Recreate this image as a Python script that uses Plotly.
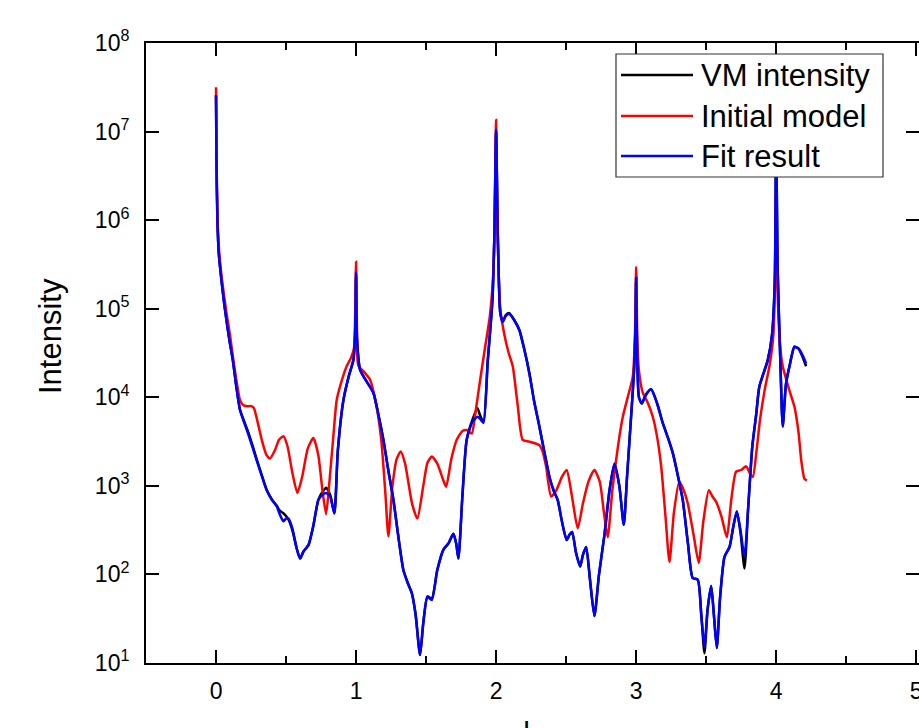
import plotly.graph_objects as go

# ---- data (L in r.l.u., intensity in counts) ----
L_fit = [0.000, 0.003, 0.010, 0.020, 0.036, 0.055, 0.071, 0.095, 0.120, 0.145,
         0.171, 0.200, 0.229, 0.260, 0.290, 0.325, 0.362, 0.400, 0.433, 0.455,
         0.481, 0.500, 0.517, 0.545, 0.575, 0.600, 0.625, 0.660, 0.695, 0.731,
         0.760, 0.786, 0.815, 0.845, 0.870, 0.910, 0.950, 0.981, 0.993, 1.000,
         1.007, 1.029, 1.075, 1.124, 1.160, 1.195, 1.230, 1.267, 1.300, 1.338,
         1.370, 1.398, 1.425, 1.457, 1.480, 1.510, 1.541, 1.580, 1.624, 1.660,
         1.695, 1.715, 1.731, 1.760, 1.790, 1.830, 1.867, 1.885, 1.910, 1.940,
         1.974, 1.988, 2.000, 2.012, 2.030, 2.047, 2.070, 2.095, 2.130, 2.166,
         2.200, 2.238, 2.270, 2.309, 2.345, 2.381, 2.410, 2.440, 2.470, 2.504,
         2.525, 2.543, 2.570, 2.600, 2.620, 2.643, 2.670, 2.702, 2.735, 2.774,
         2.810, 2.845, 2.880, 2.912, 2.935, 2.964, 2.985, 2.995, 3.000, 3.006,
         3.020, 3.040, 3.070, 3.107, 3.150, 3.190, 3.230, 3.262, 3.300, 3.333,
         3.370, 3.404, 3.440, 3.465, 3.488, 3.510, 3.536, 3.555, 3.576, 3.600,
         3.631, 3.667, 3.695, 3.719, 3.745, 3.774, 3.800, 3.830, 3.857, 3.880,
         3.940, 3.970, 3.990, 4.000, 4.010, 4.030, 4.047, 4.070, 4.095, 4.131,
         4.160, 4.190, 4.214]

fit_result = [2.57e7, 5.01e6, 1.00e6, 4.17e5, 2.29e5, 1.26e5, 8.13e4, 4.47e4, 2.63e4, 1.32e4,
              7.24e3, 5.25e3, 3.89e3, 2.75e3, 1.95e3, 1.32e3, 891, 692, 589, 479,
              398, 427, 427, 331, 200, 151, 182, 214, 355, 692,
              794, 832, 759, 490, 2.51e3, 9.33e3, 1.78e4, 2.63e4, 5.01e4, 2.57e5,
              4.47e4, 2.04e4, 1.51e4, 1.12e4, 6.31e3, 3.31e3, 1.51e3, 692, 282, 112,
              79.4, 61.7, 35.5, 12.3, 28.2, 56.2, 51.3, 112, 191, 224,
              288, 224, 151, 794, 3.31e3, 5.25e3, 6.03e3, 5.75e3, 5.13e3, 2.51e4,
              1.26e5, 7.08e5, 1.05e7, 7.08e5, 8.91e4, 7.08e4, 8.32e4, 8.71e4, 7.41e4, 5.75e4,
              3.55e4, 1.86e4, 9.33e3, 4.68e3, 2.40e3, 1.26e3, 891, 692, 398, 245,
              282, 302, 178, 123, 166, 204, 89.1, 33.9, 100, 282,
              891, 1.78e3, 1.00e3, 363, 1.26e3, 6.03e3, 2.00e4, 6.31e4, 2.24e5, 3.98e4,
              1.00e4, 8.51e3, 1.07e4, 1.23e4, 8.51e3, 5.13e3, 3.39e3, 2.34e3, 1.26e3, 692,
              224, 91.2, 87.1, 35.5, 15.1, 39.8, 74.1, 35.5, 14.8, 56.2,
              158, 204, 355, 513, 316, 158, 562, 2.82e3, 6.31e3, 1.32e4,
              2.63e4, 5.01e4, 2.00e5, 1.00e7, 3.16e5, 2.51e4, 4.68e3, 1.41e4, 2.24e4, 3.72e4,
              3.55e4, 2.95e4, 2.40e4]

vm_intensity = [2.57e7, 5.01e6, 1.00e6, 4.17e5, 2.29e5, 1.26e5, 8.13e4, 4.47e4, 2.63e4, 1.32e4,
                7.24e3, 5.40e3, 4.07e3, 2.88e3, 2.00e3, 1.35e3, 900, 700, 600, 525,
                490, 457, 417, 316, 200, 151, 182, 214, 355, 700,
                851, 955, 794, 490, 2.51e3, 9.33e3, 1.78e4, 2.63e4, 5.01e4, 2.45e5,
                4.47e4, 2.04e4, 1.51e4, 1.12e4, 6.31e3, 3.31e3, 1.51e3, 692, 282, 112,
                79.4, 61.7, 35.5, 12.3, 28.2, 56.2, 53.7, 112, 191, 224,
                288, 224, 151, 794, 3.31e3, 5.50e3, 7.50e3, 6.31e3, 5.25e3, 2.51e4,
                1.26e5, 7.08e5, 1.00e7, 7.08e5, 8.91e4, 7.24e4, 8.51e4, 8.91e4, 7.41e4, 5.75e4,
                3.55e4, 1.86e4, 9.33e3, 4.68e3, 2.40e3, 1.26e3, 891, 692, 398, 245,
                282, 302, 178, 123, 166, 204, 89.1, 33.9, 100, 282,
                891, 1.78e3, 1.00e3, 363, 1.26e3, 6.03e3, 2.00e4, 6.31e4, 2.20e5, 3.98e4,
                1.00e4, 8.51e3, 1.07e4, 1.23e4, 8.51e3, 5.13e3, 3.39e3, 2.34e3, 1.26e3, 692,
                224, 91.2, 87.1, 35.5, 12.9, 39.8, 74.1, 35.5, 14.8, 56.2,
                158, 204, 355, 513, 300, 117, 562, 2.82e3, 6.31e3, 1.32e4,
                2.63e4, 5.01e4, 2.00e5, 1.00e7, 3.16e5, 2.51e4, 4.68e3, 1.41e4, 2.24e4, 3.72e4,
                3.55e4, 2.82e4, 2.24e4]

L_init = [0.000, 0.003, 0.010, 0.020, 0.036, 0.055, 0.075, 0.100, 0.124, 0.150,
          0.171, 0.195, 0.220, 0.250, 0.270, 0.300, 0.330, 0.360, 0.386, 0.420,
          0.450, 0.481, 0.510, 0.545, 0.581, 0.615, 0.655, 0.695, 0.730, 0.760,
          0.786, 0.810, 0.840, 0.862, 0.900, 0.933, 0.965, 0.985, 0.993, 1.000,
          1.007, 1.016, 1.060, 1.100, 1.140, 1.180, 1.210, 1.231, 1.260, 1.290,
          1.319, 1.350, 1.400, 1.438, 1.480, 1.510, 1.541, 1.580, 1.615, 1.643,
          1.680, 1.719, 1.760, 1.790, 1.826, 1.850, 1.883, 1.920, 1.955, 1.980,
          1.990, 2.000, 2.010, 2.030, 2.060, 2.090, 2.119, 2.155, 2.190, 2.238,
          2.309, 2.330, 2.357, 2.393, 2.430, 2.470, 2.504, 2.540, 2.583, 2.620,
          2.660, 2.702, 2.740, 2.770, 2.797, 2.830, 2.857, 2.880, 2.905, 2.940,
          2.976, 2.992, 3.000, 3.008, 3.020, 3.048, 3.080, 3.119, 3.150, 3.179,
          3.210, 3.238, 3.270, 3.309, 3.340, 3.369, 3.410, 3.447, 3.480, 3.519,
          3.545, 3.571, 3.610, 3.648, 3.680, 3.714, 3.750, 3.786, 3.810, 3.833,
          3.860, 3.885, 3.920, 3.952, 3.980, 3.992, 4.000, 4.010, 4.030, 4.047,
          4.090, 4.131, 4.160, 4.179, 4.202, 4.220]

initial_model = [3.16e7, 6.31e6, 1.12e6, 5.01e5, 2.63e5, 1.51e5, 8.91e4, 5.01e4, 2.63e4, 1.41e4,
                 9.33e3, 8.13e3, 7.94e3, 7.94e3, 7.59e3, 5.01e3, 3.16e3, 2.24e3, 2.04e3, 2.51e3,
                 3.31e3, 3.63e3, 2.82e3, 1.41e3, 832, 1.26e3, 2.63e3, 3.47e3, 2.24e3, 891,
                 479, 1.12e3, 3.98e3, 9.33e3, 1.58e4, 2.24e4, 2.82e4, 3.55e4, 7.08e4, 3.39e5,
                 5.01e4, 2.29e4, 1.91e4, 1.58e4, 8.91e3, 3.31e3, 794, 269, 1.00e3, 2.00e3,
                 2.45e3, 1.78e3, 631, 427, 1.00e3, 1.82e3, 2.14e3, 1.78e3, 1.26e3, 977,
                 2.00e3, 3.31e3, 4.17e3, 4.27e3, 3.89e3, 6.31e3, 1.45e4, 3.55e4, 8.13e4, 2.51e5,
                 8.91e5, 1.35e7, 7.94e5, 1.00e5, 5.01e4, 3.16e4, 2.24e4, 7.94e3, 3.31e3, 3.16e3,
                 2.88e3, 2.51e3, 1.66e3, 759, 891, 1.26e3, 1.51e3, 794, 331, 631,
                 1.12e3, 1.51e3, 1.12e3, 501, 263, 891, 1.95e3, 3.55e3, 6.03e3, 1.00e4,
                 1.70e4, 5.01e4, 2.95e5, 5.01e4, 2.00e4, 1.12e4, 8.91e3, 6.03e3, 3.55e3, 1.66e3,
                 447, 138, 501, 1.12e3, 891, 631, 282, 135, 398, 891,
                 759, 661, 447, 263, 708, 1.45e3, 1.51e3, 1.66e3, 1.41e3, 1.26e3,
                 2.51e3, 5.62e3, 1.26e4, 2.24e4, 5.01e4, 2.00e5, 2.00e6, 1.58e5, 3.55e4, 2.24e4,
                 1.26e4, 7.76e3, 3.98e3, 1.95e3, 1.20e3, 1.15e3]

x_ticks = [0, 1, 2, 3, 4, 5]
y_ticks = [1e1, 1e2, 1e3, 1e4, 1e5, 1e6, 1e7, 1e8]
y_ticktext = ["10<sup>1</sup>", "10<sup>2</sup>", "10<sup>3</sup>", "10<sup>4</sup>",
              "10<sup>5</sup>", "10<sup>6</sup>", "10<sup>7</sup>", "10<sup>8</sup>"]
legend_names = ["VM intensity", "Initial model", "Fit result"]
colors = ["#000000", "#ff0000", "#0000ff"]

# ---- layout geometry (pixels) ----
W, H = 919, 728
PL, PR, PT, PB = 146, 919, 43, 663


def px(x):
    return (x - PL) / (PR - PL)


def py(y):
    return (PB - y) / (PB - PT)


FONT = "Liberation Sans, Arial, sans-serif"
LW = 2.5

fig = go.Figure()
series = [(L_fit, vm_intensity), (L_init, initial_model), (L_fit, fit_result)]
for (xs, ys), name, c in zip(series, legend_names, colors):
    fig.add_trace(go.Scatter(x=xs, y=ys, mode="lines", name=name,
                             line=dict(color=c, width=LW, shape="spline", smoothing=0.6),
                             showlegend=False))
# empty helper trace so the right-hand tick axis is drawn
fig.add_trace(go.Scatter(x=[None], y=[None], yaxis="y2", showlegend=False, hoverinfo="skip"))

tick_common = dict(ticks="inside", ticklen=13, tickwidth=2, tickcolor="black",
                   showgrid=False, zeroline=False, automargin=False)

fig.update_layout(
    template="none",
    width=W, height=H,
    margin=dict(l=PL, r=W - PR, t=PT, b=H - PB, pad=0, autoexpand=False),
    paper_bgcolor="white", plot_bgcolor="white",
    font=dict(family=FONT, color="black"),
    xaxis=dict(range=[-0.5, 5.02], tickvals=x_ticks, ticktext=[str(v) for v in x_ticks],
               showline=True, linecolor="black", linewidth=2, mirror="ticks",
               tickfont=dict(size=23, family=FONT), ticklabelstandoff=6,
               ticklabeloverflow="allow",
               minor=dict(ticks="inside", ticklen=7, tickwidth=2, tickcolor="black",
                          dtick=0.5, showgrid=False),
               **tick_common),
    yaxis=dict(type="log", range=[1, 8], tickvals=y_ticks, ticktext=y_ticktext,
               showline=True, linecolor="black", linewidth=2, mirror=False,
               tickfont=dict(size=23, family=FONT), ticklabelstandoff=10,
               **tick_common),
    yaxis2=dict(type="log", range=[1, 8], tickvals=y_ticks, overlaying="y", side="right",
                showline=False, showticklabels=False, **tick_common),
)

# legend box drawn manually to match the reference layout
shapes = [dict(type="rect", xref="paper", yref="paper", x0=px(616), x1=px(883),
               y0=py(177), y1=py(54), line=dict(color="#333333", width=1.2),
               fillcolor="white", layer="above")]
rows = [75, 116, 156]
annotations = []
for name, c, r in zip(legend_names, colors, rows):
    shapes.append(dict(type="line", xref="paper", yref="paper", x0=px(621), x1=px(693),
                       y0=py(r), y1=py(r), line=dict(color=c, width=LW), layer="above"))
    annotations.append(dict(text=name, xref="paper", yref="paper", x=px(699), y=py(r),
                            xanchor="left", yanchor="middle", showarrow=False,
                            font=dict(size=31, family=FONT, color="black")))

annotations.append(dict(text="Intensity", xref="paper", yref="paper", x=px(50), y=py(336),
                        xanchor="center", yanchor="middle", textangle=-90, showarrow=False,
                        font=dict(size=31, family=FONT, color="black")))
annotations.append(dict(text="L", xref="paper", yref="paper", x=px(531), y=py(713),
                        xanchor="center", yanchor="top", showarrow=False,
                        font=dict(size=28, family=FONT, color="black")))

fig.update_layout(shapes=shapes, annotations=annotations)
fig.write_html("out.html")
